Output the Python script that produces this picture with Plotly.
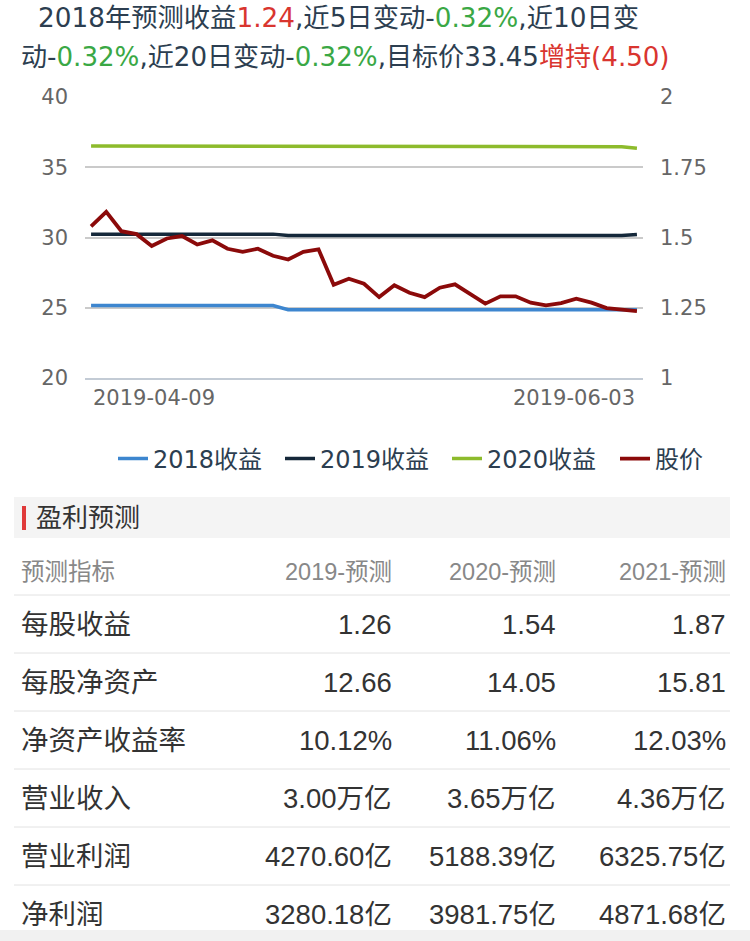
import plotly.graph_objects as go

W, H = 750, 941

dates = ["2019-04-09", "2019-04-10", "2019-04-11", "2019-04-12", "2019-04-15", "2019-04-16",
         "2019-04-17", "2019-04-18", "2019-04-19", "2019-04-22", "2019-04-23", "2019-04-24",
         "2019-04-25", "2019-04-26", "2019-04-29", "2019-04-30", "2019-05-06", "2019-05-07",
         "2019-05-08", "2019-05-09", "2019-05-10", "2019-05-13", "2019-05-14", "2019-05-15",
         "2019-05-16", "2019-05-17", "2019-05-20", "2019-05-21", "2019-05-22", "2019-05-23",
         "2019-05-24", "2019-05-27", "2019-05-28", "2019-05-29", "2019-05-30", "2019-05-31",
         "2019-06-03"]

price = [30.80, 31.83, 30.45, 30.24, 29.40, 29.93, 30.10, 29.50, 29.80, 29.20, 28.98, 29.20,
         28.70, 28.43, 28.98, 29.16, 26.64, 27.07, 26.71, 25.76, 26.60, 26.07, 25.76, 26.43,
         26.67, 25.95, 25.29, 25.81, 25.81, 25.36, 25.17, 25.33, 25.64, 25.36, 24.98, 24.86,
         24.76]

eps2018 = [1.258] * 13 + [1.243] * 24
eps2019 = [1.512] * 13 + [1.507] * 23 + [1.511]
eps2020 = [1.826] * 13 + [1.824] * 22 + [1.823, 1.818]

left_ticks = [20, 25, 30, 35, 40]
right_ticks = [1, 1.25, 1.5, 1.75, 2]
right_tick_text = ["1", "1.25", "1.5", "1.75", "2"]

table_header = ["预测指标", "2019-预测", "2020-预测", "2021-预测"]
row_labels = ["每股收益", "每股净资产", "净资产收益率", "营业收入", "营业利润", "净利润"]
col_2019 = ["1.26", "12.66", "10.12%", "3.00万亿", "4270.60亿", "3280.18亿"]
col_2020 = ["1.54", "14.05", "11.06%", "3.65万亿", "5188.39亿", "3981.75亿"]
col_2021 = ["1.87", "15.81", "12.03%", "4.36万亿", "6325.75亿", "4871.68亿"]

DARK = "#2c3e50"
RED = "#d9352f"
GREEN = "#3aa845"
CJK = "Liberation Sans, Noto Sans CJK SC, sans-serif"
HDR = "DejaVu Sans, Noto Sans CJK SC, sans-serif"
AX = "DejaVu Sans, Verdana, sans-serif"


def py(px):
    return 1 - px / H


def px_x(px):
    return px / W


fig = go.Figure()
fig.add_trace(go.Scatter(x=dates, y=eps2018, name="2018收益", mode="lines", yaxis="y",
                         legend="legend", line=dict(color="#3d86cf", width=3.5)))
fig.add_trace(go.Scatter(x=dates, y=eps2019, name="2019收益", mode="lines", yaxis="y",
                         legend="legend2", line=dict(color="#15283a", width=3.5)))
fig.add_trace(go.Scatter(x=dates, y=eps2020, name="2020收益", mode="lines", yaxis="y",
                         legend="legend3", line=dict(color="#8dbb2c", width=3.5)))
fig.add_trace(go.Scatter(x=dates, y=price, name="股价", mode="lines", yaxis="y2",
                         legend="legend4", line=dict(color="#8b0a0a", width=3.8)))

annotations = []
shapes = []

# header lines
line1 = (f"<span style='color:{DARK}'>2018年预测收益</span><span style='color:{RED}'>1.24</span>"
         f"<span style='color:{DARK}'>,近5日变动-</span><span style='color:{GREEN}'>0.32%</span>"
         f"<span style='color:{DARK}'>,近10日变</span>")
line2 = (f"<span style='color:{DARK}'>动-</span><span style='color:{GREEN}'>0.32%</span>"
         f"<span style='color:{DARK}'>,近20日变动-</span><span style='color:{GREEN}'>0.32%</span>"
         f"<span style='color:{DARK}'>,目标价33.45</span><span style='color:{RED}'>增持(4.50)</span>")
annotations.append(dict(text=line1, x=px_x(36), y=py(18), xref="paper", yref="paper",
                        xanchor="left", yanchor="middle", showarrow=False,
                        font=dict(family=HDR, size=26.3, color=DARK)))
annotations.append(dict(text=line2, x=px_x(19), y=py(57), xref="paper", yref="paper",
                        xanchor="left", yanchor="middle", showarrow=False,
                        font=dict(family=HDR, size=26.1, color=DARK)))

# date labels
annotations.append(dict(text=dates[0], x=dates[0], y=py(398), xref="x", yref="paper",
                        xanchor="left", yanchor="middle", showarrow=False,
                        font=dict(family=AX, size=21, color="#666666")))
annotations.append(dict(text=dates[-1], x=dates[-1], y=py(398), xref="x", yref="paper",
                        xanchor="right", yanchor="middle", showarrow=False,
                        font=dict(family=AX, size=21, color="#666666")))

# section header
shapes.append(dict(type="rect", xref="paper", yref="paper", x0=px_x(14), x1=px_x(730),
                   y0=py(538), y1=py(497), fillcolor="#f4f4f4", line=dict(width=0), layer="below"))
shapes.append(dict(type="rect", xref="paper", yref="paper", x0=px_x(22), x1=px_x(26),
                   y0=py(530), y1=py(506), fillcolor="#e03a3a", line=dict(width=0)))
annotations.append(dict(text="盈利预测", x=px_x(34), y=py(518), xref="paper", yref="paper",
                        xanchor="left", yanchor="middle", showarrow=False,
                        font=dict(family=CJK, size=26, color="#333333")))

# table
col_right = [394, 558, 728]
annotations.append(dict(text=table_header[0], x=px_x(19), y=py(572), xref="paper", yref="paper",
                        xanchor="left", yanchor="middle", showarrow=False,
                        font=dict(family=CJK, size=23.5, color="#888888")))
for j, hdr in enumerate(table_header[1:]):
    annotations.append(dict(text=hdr, x=px_x(col_right[j]), y=py(572), xref="paper", yref="paper",
                            xanchor="right", yanchor="middle", showarrow=False,
                            font=dict(family=CJK, size=23.5, color="#888888")))

row_h = 58
for i, lab in enumerate(row_labels):
    sep_y = 595 + i * row_h
    shapes.append(dict(type="line", xref="paper", yref="paper", x0=px_x(14), x1=px_x(730),
                       y0=py(sep_y), y1=py(sep_y), line=dict(color="#e2e2e2", width=1)))
    cy = sep_y + 29
    annotations.append(dict(text=lab, x=px_x(19), y=py(cy), xref="paper", yref="paper",
                            xanchor="left", yanchor="middle", showarrow=False,
                            font=dict(family=CJK, size=27.5, color="#333333")))
    for j, col in enumerate([col_2019, col_2020, col_2021]):
        annotations.append(dict(text=col[i], x=px_x(col_right[j]), y=py(cy), xref="paper",
                                yref="paper", xanchor="right", yanchor="middle", showarrow=False,
                                font=dict(family=CJK, size=27.5, color="#333333")))

shapes.append(dict(type="rect", xref="paper", yref="paper", x0=0, x1=1,
                   y0=0, y1=py(930), fillcolor="#f1f1f1", line=dict(width=0)))


def legend_at(xpx):
    return dict(orientation="h", x=px_x(xpx), xanchor="left", y=py(459), yanchor="middle",
                font=dict(family=HDR, size=24, color=DARK), itemwidth=30,
                bgcolor="rgba(0,0,0,0)")


fig.update_layout(
    width=W, height=H,
    margin=dict(l=0, r=0, t=0, b=0),
    paper_bgcolor="white", plot_bgcolor="white",
    showlegend=True,
    legend=legend_at(113),
    legend2=legend_at(280),
    legend3=legend_at(447),
    legend4=legend_at(615),
    xaxis=dict(domain=[px_x(85), px_x(643)], type="category", range=[-0.4, 36.4],
               showticklabels=False, showgrid=False, zeroline=False, automargin=False,
               showline=True, linecolor="#c3cbd5", linewidth=2, ticks=""),
    yaxis=dict(domain=[py(378), py(97)], range=[1, 2], side="right", automargin=False,
               tickvals=right_ticks, ticktext=right_tick_text,
               showgrid=True, gridcolor="#cacaca", gridwidth=2, zeroline=False,
               ticks="", ticklabelstandoff=16,
               tickfont=dict(family=AX, size=21, color="#666666")),
    yaxis2=dict(range=[20, 40], side="left", overlaying="y", anchor="x", automargin=False,
                tickvals=left_ticks, showgrid=False, zeroline=False,
                ticks="", ticklabelstandoff=16,
                tickfont=dict(family=AX, size=21, color="#666666")),
    annotations=annotations,
    shapes=shapes,
)

fig.write_html("out.html")
